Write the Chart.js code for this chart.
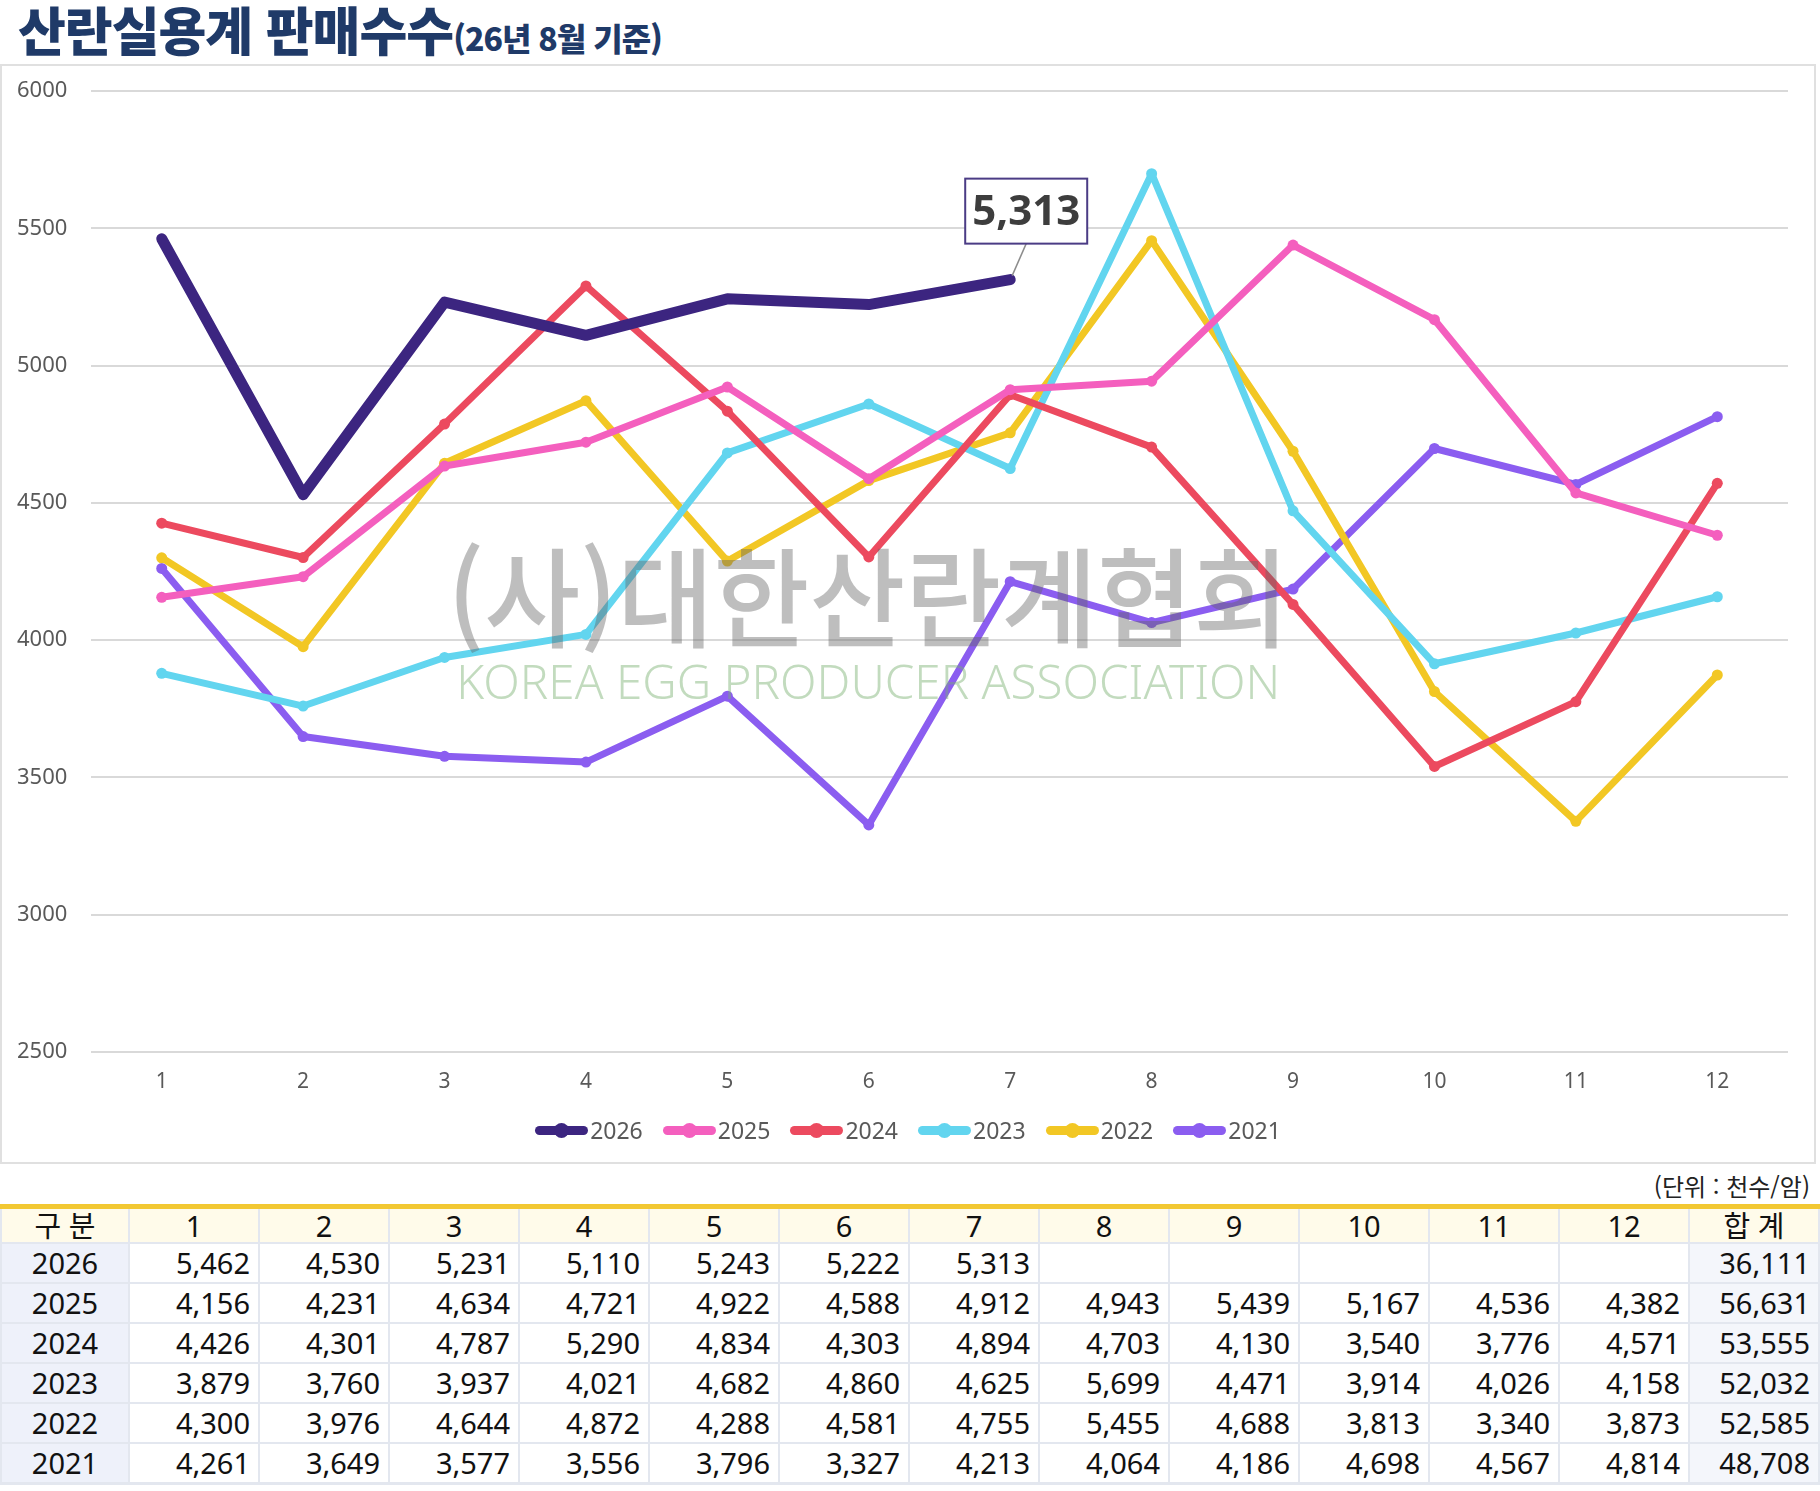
<!DOCTYPE html>
<html lang="ko">
<head>
<meta charset="utf-8">
<script src="https://cdn.jsdelivr.net/npm/chart.js@4.4.1/dist/chart.umd.min.js"></script>
<style>
    body {
        margin: 0;
        background: #fff;
        width: 1820px;
        height: 1491px;
        position: relative;
        overflow: hidden;
        font-family: "Noto Sans", "Noto Sans CJK KR", sans-serif;
    }
    .titulo {
        position: absolute;
        left: 18px;
        top: -9px;
        color: #1f3a68;
        font-family: "Noto Sans CJK KR", sans-serif;
        font-weight: 900;
        font-size: 52px;
        letter-spacing: -1px;
        white-space: nowrap;
    }
    .titulo span {
        font-size: 32px;
        letter-spacing: -1px;
    }
    .caixa-grafico {
        position: absolute;
        left: 0;
        top: 64px;
        width: 1812px;
        height: 1096px;
        border: 2px solid #e0e0e0;
    }
    .area-canvas {
        position: absolute;
        left: 0;
        top: 0;
        width: 1812px;
        height: 1096px;
    }
    .legenda {
        position: absolute;
        left: 0;
        width: 1812px;
        top: 1048px;
        display: flex;
        justify-content: center;
        gap: 20px;
    }
    .legenda-item {
        display: flex;
        align-items: center;
        font-size: 23px;
        color: #595959;
    }
    .legenda-linha {
        position: relative;
        width: 53px;
        height: 9px;
        border-radius: 5px;
        margin-right: 2px;
    }
    .legenda-ponto {
        position: absolute;
        left: 19px;
        top: -3px;
        width: 15px;
        height: 15px;
        border-radius: 8px;
    }
    .unidade {
        position: absolute;
        right: 10px;
        top: 1168px;
        font-size: 24px;
        color: #222;
        font-family: "Noto Sans CJK KR", sans-serif;
    }
    table {
        position: absolute;
        left: 0;
        top: 1204px;
        border-collapse: collapse;
        table-layout: fixed;
        width: 1818px;
        border-top: 5px solid #f2c832;
        border-bottom: 3px solid #e3e7ef;
    }
    td, th {
        border: 2px solid #e3e7ef;
        font-size: 29px;
        font-weight: 400;
        color: #111;
        padding: 0 8px 0 0;
        height: 38px;
        line-height: 38px;
        text-align: right;
        white-space: nowrap;
    }
    th {
        height: 33px;
        line-height: 33px;
        background: #fffbea;
        text-align: center;
        padding: 0;
        font-family: "Noto Sans", "Noto Sans CJK KR", sans-serif;
    }
    td.ano {
        background: #eef1fa;
        text-align: center;
        padding: 0;
    }
    td.total {
        background: #f4f6fb;
    }
</style>
</head>
<body>

<div class="titulo">산란실용계 판매수수<span>(26년 8월 기준)</span></div>

<div class="caixa-grafico">
    <div class="area-canvas"><canvas id="canvas_grafico"></canvas></div>
    <div class="legenda" id="div_legenda"></div>
</div>

<div class="unidade">(단위 : 천수/암)</div>
<table id="tabela_dados"></table>

<script>
var meses = ['1', '2', '3', '4', '5', '6', '7', '8', '9', '10', '11', '12']
var anos = ['2026', '2025', '2024', '2023', '2022', '2021']
var cores = ['#3c2580', '#f45fbe', '#ec4a5f', '#62d5ef', '#f2c724', '#8b5df0']

var dados2026 = [5462, 4530, 5231, 5110, 5243, 5222, 5313, null, null, null, null, null]
var dados2025 = [4156, 4231, 4634, 4721, 4922, 4588, 4912, 4943, 5439, 5167, 4536, 4382]
var dados2024 = [4426, 4301, 4787, 5290, 4834, 4303, 4894, 4703, 4130, 3540, 3776, 4571]
var dados2023 = [3879, 3760, 3937, 4021, 4682, 4860, 4625, 5699, 4471, 3914, 4026, 4158]
var dados2022 = [4300, 3976, 4644, 4872, 4288, 4581, 4755, 5455, 4688, 3813, 3340, 3873]
var dados2021 = [4261, 3649, 3577, 3556, 3796, 3327, 4213, 4064, 4186, 4698, 4567, 4814]
var totais = [36111, 56631, 53555, 52032, 52585, 48708]

var eixoYMin = 2500
var eixoYMax = 6000
var eixoYPasso = 500

var listaDados = [dados2026, dados2025, dados2024, dados2023, dados2022, dados2021]

function formatar(valor) {
    return valor.toLocaleString('en-US')
}

// marca d'agua (sai por cima das linhas, meio transparente)
var pluginMarcaDagua = {
    id: 'marcaDagua',
    afterDatasetsDraw: function (chart) {
        var ctx = chart.ctx
        var area = chart.chartArea
        var cx = area.left + area.width * 0.458
        ctx.save()
        ctx.textAlign = 'center'
        ctx.textBaseline = 'alphabetic'

        ctx.font = '500 108px "Noto Sans CJK KR"'
        ctx.fillStyle = 'rgba(100, 100, 100, 0.42)'
        var texto = '(사)대한산란계협회'
        var largura = ctx.measureText(texto).width
        var escala = 842 / largura
        ctx.save()
        ctx.translate(cx, area.top + area.height * 0.57)
        ctx.scale(escala, 1)
        ctx.fillText(texto, 0, 0)
        ctx.restore()

        ctx.font = '300 47px "Noto Sans"'
        ctx.fillStyle = 'rgba(120, 175, 110, 0.45)'
        var texto2 = 'KOREA EGG PRODUCER ASSOCIATION'
        var largura2 = ctx.measureText(texto2).width
        var escala2 = 824 / largura2
        ctx.save()
        ctx.translate(cx, area.top + area.height * 0.633)
        ctx.scale(escala2, 1)
        ctx.fillText(texto2, 0, 0)
        ctx.restore()

        ctx.restore()
    }
}

// caixa com o ultimo valor de 2026
var pluginUltimoValor = {
    id: 'ultimoValor',
    afterDatasetsDraw: function (chart) {
        var meta = chart.getDatasetMeta(0)
        var ultimo = -1
        for (var i = 0; i < dados2026.length; i++) {
            if (dados2026[i] != null) ultimo = i
        }
        if (ultimo < 0) return
        var ponto = meta.data[ultimo]
        var ctx = chart.ctx
        var caixaX = ponto.x + 16
        var caixaBaixo = ponto.y - 36
        var w = 122
        var h = 65

        ctx.save()
        ctx.strokeStyle = '#8c8c8c'
        ctx.lineWidth = 1.5
        ctx.beginPath()
        ctx.moveTo(caixaX, caixaBaixo)
        ctx.lineTo(ponto.x + 2, ponto.y - 4)
        ctx.stroke()

        ctx.fillStyle = '#ffffff'
        ctx.fillRect(caixaX - w / 2, caixaBaixo - h, w, h)
        ctx.strokeStyle = '#4b3c85'
        ctx.lineWidth = 2
        ctx.strokeRect(caixaX - w / 2, caixaBaixo - h, w, h)

        ctx.fillStyle = '#3d3d3d'
        ctx.font = 'bold 42px "Noto Sans"'
        ctx.textAlign = 'center'
        ctx.textBaseline = 'middle'
        ctx.fillText(formatar(dados2026[ultimo]), caixaX, caixaBaixo - h / 2 + 2)
        ctx.restore()
    }
}

var datasets = []
for (var i = 0; i < anos.length; i++) {
    datasets.push({
        label: anos[i],
        data: listaDados[i],
        borderColor: cores[i],
        backgroundColor: cores[i],
        borderWidth: i == 0 ? 11 : 7,
        pointRadius: i == 0 ? 0 : 5.5,
        pointBorderWidth: 0,
        pointHoverRadius: 5.5,
        borderCapStyle: 'round',
        borderJoinStyle: 'round',
        tension: 0,
        spanGaps: false
    })
}

var configGrafico = {
    type: 'line',
    data: {
        labels: meses,
        datasets: datasets
    },
    options: {
        responsive: true,
        maintainAspectRatio: false,
        animation: false,
        layout: {
            padding: { top: 25, right: 26, left: 15, bottom: 0 }
        },
        plugins: {
            legend: { display: false },
            tooltip: { enabled: false }
        },
        scales: {
            x: {
                offset: true,
                grid: { display: false, drawTicks: false },
                border: { display: false },
                ticks: {
                    color: '#595959',
                    font: { family: 'Noto Sans', size: 21 },
                    padding: 17
                },
                afterFit: function (scale) {
                    scale.height = 110
                }
            },
            y: {
                min: eixoYMin,
                max: eixoYMax,
                grid: { color: '#d9d9d9', lineWidth: 2, drawTicks: false },
                border: { display: false },
                ticks: {
                    stepSize: eixoYPasso,
                    color: '#595959',
                    font: { family: 'Noto Sans', size: 22 },
                    padding: 0,
                    crossAlign: 'far',
                    callback: function (valor) {
                        return String(valor)
                    }
                },
                afterFit: function (scale) {
                    scale.width = 74
                }
            }
        }
    },
    plugins: [pluginMarcaDagua, pluginUltimoValor]
}

new Chart(document.getElementById('canvas_grafico'), configGrafico)

// legenda
var divLegenda = document.getElementById('div_legenda')
for (var i = 0; i < anos.length; i++) {
    var item = document.createElement('div')
    item.classList.add('legenda-item')
    var linha = document.createElement('div')
    linha.classList.add('legenda-linha')
    linha.style.background = cores[i]
    var ponto = document.createElement('div')
    ponto.classList.add('legenda-ponto')
    ponto.style.background = cores[i]
    linha.appendChild(ponto)
    var texto = document.createElement('span')
    texto.innerHTML = anos[i]
    item.appendChild(linha)
    item.appendChild(texto)
    divLegenda.appendChild(item)
}

// tabela
var tabela = document.getElementById('tabela_dados')
var colgroup = document.createElement('colgroup')
var col0 = document.createElement('col')
col0.style.width = '128px'
colgroup.appendChild(col0)
for (var i = 0; i < 13; i++) {
    var c = document.createElement('col')
    c.style.width = '130px'
    colgroup.appendChild(c)
}
tabela.appendChild(colgroup)

var cabecalho = document.createElement('tr')
var celulasCab = ['구 분'].concat(meses).concat(['합 계'])
celulasCab.forEach(function (t) {
    var th = document.createElement('th')
    th.innerHTML = t
    cabecalho.appendChild(th)
})
tabela.appendChild(cabecalho)

for (var i = 0; i < anos.length; i++) {
    var tr = document.createElement('tr')
    var tdAno = document.createElement('td')
    tdAno.classList.add('ano')
    tdAno.innerHTML = anos[i]
    tr.appendChild(tdAno)
    for (var m = 0; m < meses.length; m++) {
        var td = document.createElement('td')
        var v = listaDados[i][m]
        td.innerHTML = v == null ? '' : formatar(v)
        tr.appendChild(td)
    }
    var tdTotal = document.createElement('td')
    tdTotal.classList.add('total')
    tdTotal.innerHTML = formatar(totais[i])
    tr.appendChild(tdTotal)
    tabela.appendChild(tr)
}
</script>
</body>
</html>
